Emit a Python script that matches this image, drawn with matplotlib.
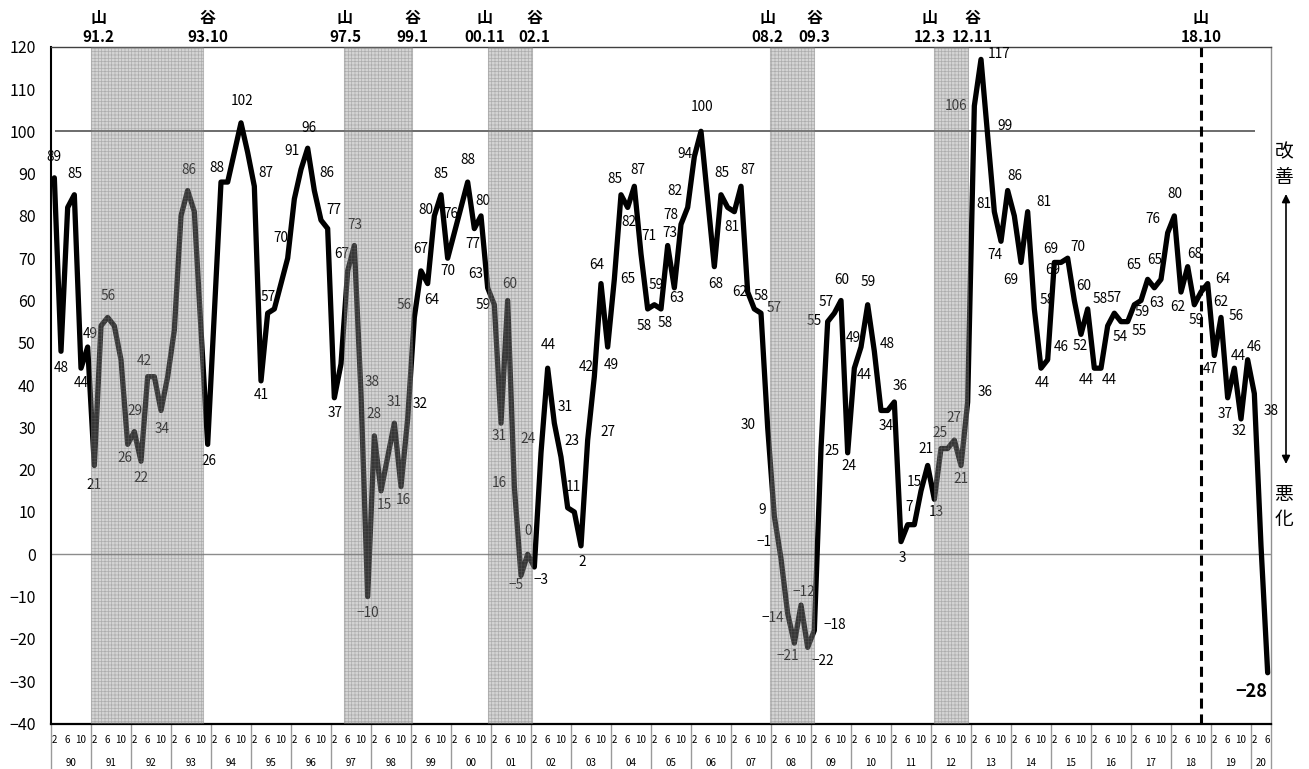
"""Bimonthly DI (1990-2020) with business-cycle peaks and troughs."""

import matplotlib

matplotlib.use("Agg")
import matplotlib.pyplot as plt
from matplotlib.lines import Line2D
from matplotlib.transforms import blended_transform_factory

plt.rcParams["font.family"] = ["Noto Sans CJK JP", "DejaVu Sans"]
plt.rcParams["hatch.linewidth"] = 0.5
plt.rcParams["axes.unicode_minus"] = True

# --- data ---------------------------------------------------------------
years = list(range(1990, 2021))
months = [2, 4, 6, 8, 10, 12]
tick_months = [2, 6, 10]

di = [
    89, 48, 82, 85, 44, 49,      # 90
    21, 54, 56, 54, 46, 26,      # 91
    29, 22, 42, 42, 34, 42,      # 92
    53, 80, 86, 81, 53, 26,      # 93
    57, 88, 88, 95, 102, 95,     # 94
    87, 41, 57, 58, 64, 70,      # 95
    84, 91, 96, 86, 79, 77,      # 96
    37, 45, 67, 73, 38, -10,     # 97
    28, 15, 23, 31, 16, 32,      # 98
    56, 67, 64, 80, 85, 70,      # 99
    76, 82, 88, 77, 80, 63,      # 00
    59, 31, 60, 16, -5, 0,       # 01
    -3, 24, 44, 31, 23, 11,      # 02
    10, 2, 27, 42, 64, 49,       # 03
    65, 85, 82, 87, 71, 58,      # 04
    59, 58, 73, 63, 78, 82,      # 05
    94, 100, 84, 68, 85, 82,     # 06
    81, 87, 62, 58, 57, 30,      # 07
    9, -1, -14, -21, -12, -22,   # 08
    -18, 25, 55, 57, 60, 24,     # 09
    44, 49, 59, 48, 34, 34,      # 10
    36, 3, 7, 7, 15, 21,         # 11
    13, 25, 25, 27, 21, 36,      # 12
    106, 117, 99, 81, 74, 86,    # 13
    80, 69, 81, 58, 44, 46,      # 14
    69, 69, 70, 60, 52, 58,      # 15
    44, 44, 54, 57, 55, 55,      # 16
    59, 60, 65, 63, 65, 76,      # 17
    80, 62, 68, 59, 62, 64,      # 18
    47, 56, 37, 44, 32, 46,      # 19
    38, 2, -28,                  # 20
]

cycle_kinds = ["山", "谷", "山", "谷", "山", "谷", "山", "谷", "山", "谷", "山"]
cycle_dates = ["91.2", "93.10", "97.5", "99.1", "00.11", "02.1",
               "08.2", "09.3", "12.3", "12.11", "18.10"]

# --- layout -------------------------------------------------------------
W, H = 1309, 769
CYCLE_X = [6.6, 23.0, 43.6, 53.75, 64.5, 72.0, 107.0, 114.0, 131.25, 137.75, 172.0]
SHADES = [(5.5, 22.35), (43.5, 53.6), (65.1, 71.6), (107.4, 114.0), (132.0, 137.1)]
DASHED_AT = 172

# label offsets in pixels (dx, dy downward) relative to each labelled point
LABEL_OFFSETS = {
    0: (0, -21), 1: (0, 17), 3: (1, -21), 4: (0, 15), 5: (3, -13), 6: (0, 20),
    8: (0, -21), 11: (-3, 14), 12: (1, -21), 13: (0, 17), 14: (-3, -16), 16: (1, 19),
    20: (1, -21), 23: (1, 17), 25: (-4, -14), 28: (1, -22), 30: (12, -13), 31: (0, 14),
    32: (0, -16), 35: (-7, -20), 37: (-9, -18), 38: (1, -20), 39: (13, -18), 41: (6, -19),
    42: (1, 15), 44: (-6, -17), 45: (1, -21), 46: (11, -12), 47: (0, 16), 48: (0, -22),
    49: (3, 14), 51: (0, -21), 52: (2, 13), 53: (12, -15), 54: (-10, -12), 55: (0, -22),
    56: (4, 16), 57: (-8, -6), 58: (0, -21), 59: (0, 13), 60: (-3, -19), 62: (0, -22),
    63: (-1, 15), 64: (2, -15), 65: (-12, -14), 66: (-11, 0), 67: (-2, 13), 68: (2, -17),
    69: (-15, -4), 70: (-5, 10), 71: (0, -23), 72: (7, 13), 73: (-13, -14), 74: (1, -23),
    75: (11, -16), 76: (11, -16), 77: (6, -21), 79: (1, 16), 80: (20, -8), 81: (-8, -10),
    82: (-4, -19), 83: (4, 18), 84: (13, 0), 85: (-6, -16), 86: (1, 15), 87: (4, -16),
    88: (8, -18), 89: (-4, 17), 90: (2, -20), 91: (4, 14), 92: (2, -13), 93: (2, 10),
    94: (-10, -9), 95: (-13, -16), 96: (-9, -3), 97: (1, -24), 99: (1, 17), 100: (1, -22),
    102: (-2, 15), 103: (7, -16), 104: (-8, 0), 105: (7, -13), 106: (13, -5), 107: (-20, -2),
    108: (-12, -6), 109: (-17, -17), 110: (-15, 4), 111: (-7, 13), 112: (3, -13),
    113: (15, 14), 114: (20, -5), 115: (11, 2), 116: (-13, -1), 117: (-8, -11),
    118: (1, -21), 119: (1, 13), 120: (10, 7), 121: (-8, -9), 122: (1, -23), 123: (13, -7),
    124: (5, 16), 126: (6, -16), 127: (1, 16), 128: (1, -18), 130: (-7, -9), 131: (-2, -16),
    132: (2, 13), 133: (-1, -16), 135: (0, -22), 136: (0, 14), 137: (17, -10),
    138: (-18, 0), 139: (18, -5), 140: (17, -10), 141: (-10, -8), 142: (-6, 14),
    143: (7, -15), 145: (-10, 18), 146: (16, -10), 147: (13, -9), 148: (1, 15),
    149: (14, -13), 150: (-2, 8), 151: (-10, -13), 152: (10, -11), 153: (9, -15),
    154: (-1, 12), 155: (12, -10), 156: (-8, 12), 157: (8, 12), 158: (12, 11),
    159: (0, -15), 161: (12, 9), 162: (8, 7), 164: (-14, -14), 165: (2, 15),
    166: (-6, -19), 167: (-15, -14), 168: (1, -22), 169: (-3, 15), 170: (7, -13),
    171: (2, 15), 172: (20, 10), 173: (15, -5), 174: (-4, 14), 175: (15, -1),
    176: (-3, 16), 177: (4, -12), 178: (-2, 12), 179: (7, -13), 180: (17, 17),
    182: (-16, 19),
}


def fmt(v):
    return str(v).replace("-", "\u2212")


fig = plt.figure(figsize=(W / 100, H / 100), dpi=100)
ax = fig.add_axes([51 / W, (H - 723.5) / H, 1220 / W, 676.8 / H])

x = list(range(len(di)))
ax.plot(x, di, color="black", lw=3.8, solid_joinstyle="round",
        solid_capstyle="round", zorder=2)

ax.hlines(100, 0.1, 180.1, color="#444444", lw=1.1, zorder=1.5)
ax.axhline(0, color="#8c8c8c", lw=1.0, zorder=1.5)
ax.axvline(DASHED_AT, color="black", lw=2.2, ls=(0, (3.3, 1.9)), zorder=2.5)

for a, b in SHADES:
    ax.axvspan(a, b, facecolor=(0.56, 0.56, 0.56), alpha=0.38, hatch="+++++",
               edgecolor="#6e6e6e", lw=0.8, zorder=4)

for i, (dx, dy) in LABEL_OFFSETS.items():
    last = i == len(di) - 1
    ax.annotate(fmt(di[i]), (i, di[i]), xytext=(dx, -dy),
                textcoords="offset pixels", ha="center", va="center",
                fontsize=13 if last else 9.8,
                fontweight="bold" if last else "normal",
                color="black", zorder=3)

ax.set_xlim(-0.5, len(di) - 0.5)
ax.set_ylim(-40, 120)
ax.set_yticks(range(-40, 121, 10))
ax.set_yticklabels([fmt(v) for v in range(-40, 121, 10)])
ax.tick_params(axis="y", length=0, pad=11, labelsize=11.5)
ax.set_xticks([])

for side, col, lw in [("left", "black", 1.5), ("bottom", "black", 1.6),
                      ("top", "#404040", 1.0), ("right", "#909090", 1.0)]:
    ax.spines[side].set_color(col)
    ax.spines[side].set_linewidth(lw)

# month / year table under the axis
trans = blended_transform_factory(ax.transData, ax.transAxes)
pos = 0
for yr in years:
    n = len(months) if yr < years[-1] else len(di) - pos
    for j, m in enumerate(months[:n]):
        if m in tick_months:
            ax.text(pos + j, -0.0244, str(m), transform=trans, ha="center",
                    va="center", fontsize=7, clip_on=False)
    ax.text(pos - 0.5 + n / 2, -0.058, f"{yr % 100:02d}", transform=trans,
            ha="center", va="center", fontsize=7, clip_on=False)
    ax.add_line(Line2D([pos - 0.5, pos - 0.5], [0, -0.07], transform=trans,
                       color="#9a9a9a", lw=1.0, clip_on=False))
    pos += n
ax.add_line(Line2D([pos - 0.5, pos - 0.5], [0, -0.07], transform=trans,
                   color="#9a9a9a", lw=1.0, clip_on=False))

# peaks and troughs above the plot
for kind, date, cx in zip(cycle_kinds, cycle_dates, CYCLE_X):
    ax.text(cx, 1.042, kind, transform=trans, ha="center", va="center",
            fontsize=11.5, fontweight="bold", clip_on=False)
    ax.text(cx, 1.0144, date, transform=trans, ha="center", va="center",
            fontsize=11, fontweight="bold", clip_on=False)

# improvement / deterioration marker on the right
for ch, py in [("改", 152), ("善", 177), ("悪", 495), ("化", 519)]:
    fig.text(1284 / W, 1 - py / H, ch, ha="center", va="center", fontsize=13.5)
ax.annotate("", xy=(1286, H - 194), xytext=(1286, H - 464),
            xycoords="figure pixels", textcoords="figure pixels",
            arrowprops=dict(arrowstyle="<|-|>", color="black", lw=1.2,
                            mutation_scale=12, shrinkA=0, shrinkB=0))

fig.savefig("out.png", dpi=100)
